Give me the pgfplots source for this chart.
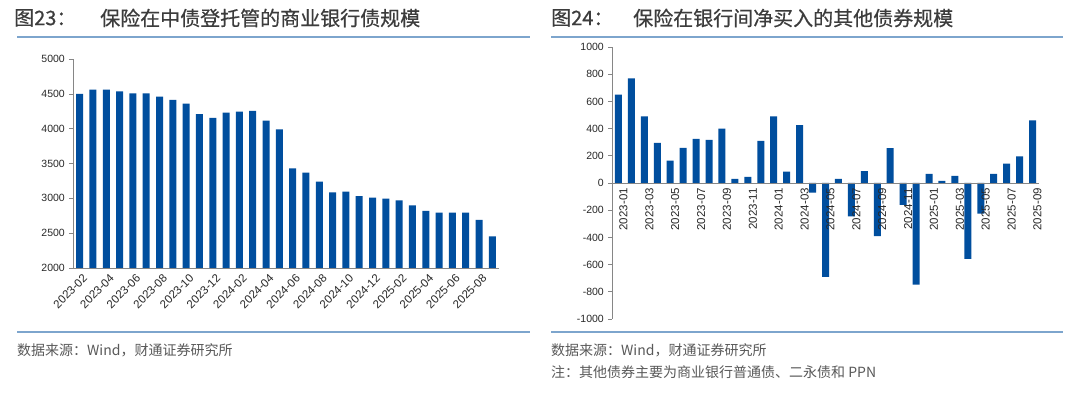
\documentclass[border=0pt]{standalone}
\usepackage{pgfplots}
\pgfplotsset{compat=1.18}
\usepackage{fontspec}
\setmainfont{Liberation Sans}
\newfontfamily\cjk{Noto Sans CJK SC}
\newfontfamily\cjkt[FakeBold=0.5]{Noto Sans CJK SC}
\definecolor{barblue}{RGB}{0,78,158}
\definecolor{linebl}{RGB}{125,165,205}
\definecolor{ttl}{RGB}{60,60,60}
\definecolor{ftr}{RGB}{89,89,89}
\definecolor{axgray}{RGB}{134,134,134}
\definecolor{tlab}{RGB}{40,40,40}

\pgfplotstableread{
x y
0 4500
1 4560
2 4560
3 4535
4 4505
5 4505
6 4460
7 4415
8 4360
9 4210
10 4155
11 4230
12 4245
13 4255
14 4115
15 3990
16 3430
17 3370
18 3240
19 3085
20 3095
21 3030
22 3010
23 2995
24 2970
25 2900
26 2820
27 2795
28 2795
29 2795
30 2690
31 2455
}\lefttab

\pgfplotstableread{
x y
0 650
1 770
2 490
3 295
4 165
5 258
6 325
7 318
8 400
9 30
10 45
11 310
12 490
13 83
14 425
15 -70
16 -690
17 30
18 -245
19 88
20 -390
21 257
22 -160
23 -748
24 68
25 15
26 52
27 -558
28 -225
29 68
30 143
31 196
32 460
}\righttab

\pgfplotsset{
  mystyle/.style={
    scale only axis,
    anchor=south west,
    enlargelimits=false,
    axis line style={axgray, line width=0.8pt},
    tick style={axgray, line width=0.6pt},
    tick align=outside,
    major tick length=4pt,
    ytick pos=left,
    xtick pos=bottom,
    /pgf/number format/assume math mode=true,
    /pgf/number format/1000 sep={},
    yticklabel style={font=\fontsize{10.5}{12}\selectfont, text=tlab, inner sep=1pt, xshift=-3pt},
    xticklabel style={font=\fontsize{11.5}{13}\selectfont, text=tlab},
    extra x tick style={major tick length=4pt, xticklabel style={opacity=0}},
  }
}

\begin{document}
\begin{tikzpicture}
\path[fill=white] (0pt,0pt) rectangle (1080pt,399pt);
% titles
\node[anchor=west,inner sep=0, text=ttl, font=\cjkt\fontsize{20}{24}\selectfont] at (14pt,381pt) {图23：};
\node[anchor=west,inner sep=0, text=ttl, font=\cjkt\fontsize{20}{24}\selectfont] at (100pt,381pt) {保险在中债登托管的商业银行债规模};
\node[anchor=west,inner sep=0, text=ttl, font=\cjkt\fontsize{20}{24}\selectfont] at (551pt,381pt) {图24：};
\node[anchor=west,inner sep=0, text=ttl, font=\cjkt\fontsize{20}{24}\selectfont] at (633pt,381pt) {保险在银行间净买入的其他债券规模};
\draw[linebl, line width=1.5pt] (17pt,362pt) -- (530pt,362pt);
\draw[linebl, line width=1.5pt] (551pt,362pt) -- (1063pt,362pt);
\draw[linebl, line width=1.5pt] (17pt,67pt) -- (530pt,67pt);
\draw[linebl, line width=1.5pt] (551pt,67pt) -- (1063pt,67pt);
\node[anchor=west,inner sep=0, text=ftr, font=\cjk\fontsize{14}{16}\selectfont] at (17pt,49pt) {数据来源：Wind，财通证券研究所};
\node[anchor=west,inner sep=0, text=ftr, font=\cjk\fontsize{14}{16}\selectfont] at (551pt,49pt) {数据来源：Wind，财通证券研究所};
\node[anchor=west,inner sep=0, text=ftr, font=\cjk\fontsize{14}{16}\selectfont] at (551pt,27pt) {注：其他债券主要为商业银行普通债、二永债和 PPN};

% left chart
\begin{axis}[mystyle,
  at={(73pt,131pt)}, width=426pt, height=209pt,
  axis x line*=bottom, axis y line*=left,
  xmin=-0.5, xmax=31.5, ymin=2000, ymax=5000,
  ytick={2000,2500,...,5000},
  xtick={0,2,...,30},
  xticklabels={2023-02,2023-04,2023-06,2023-08,2023-10,2023-12,2024-02,2024-04,2024-06,2024-08,2024-10,2024-12,2025-02,2025-04,2025-06,2025-08},
  xticklabel style={rotate=45, anchor=east, inner sep=0pt, yshift=-7pt, xshift=1pt},
  x tick style={draw=none},
  extra x ticks={-0.5,1.5,...,31.5},
]
\addplot[ybar, bar width=7pt, fill=barblue, draw=none] table[x=x,y=y] {\lefttab};
\end{axis}

% right chart
\begin{axis}[mystyle,
  at={(612pt,80pt)}, width=427pt, height=272pt,
  axis on top,
  axis x line*=middle, axis y line*=left,
  xmin=-0.5, xmax=32.5, ymin=-1000, ymax=1000,
  ytick={-1000,-800,...,1000},
  xtick={0,2,...,32},
  xticklabels={2023-01,2023-03,2023-05,2023-07,2023-09,2023-11,2024-01,2024-03,2024-05,2024-07,2024-09,2024-11,2025-01,2025-03,2025-05,2025-07,2025-09},
  xticklabel style={rotate=90, anchor=east, inner sep=1pt, yshift=-5pt},
  x tick style={draw=none},
  extra x ticks={-0.5,1.5,...,31.5},
]
\addplot[ybar, bar width=7pt, fill=barblue, draw=none] table[x=x,y=y] {\righttab};
\end{axis}
\end{tikzpicture}
\end{document}
